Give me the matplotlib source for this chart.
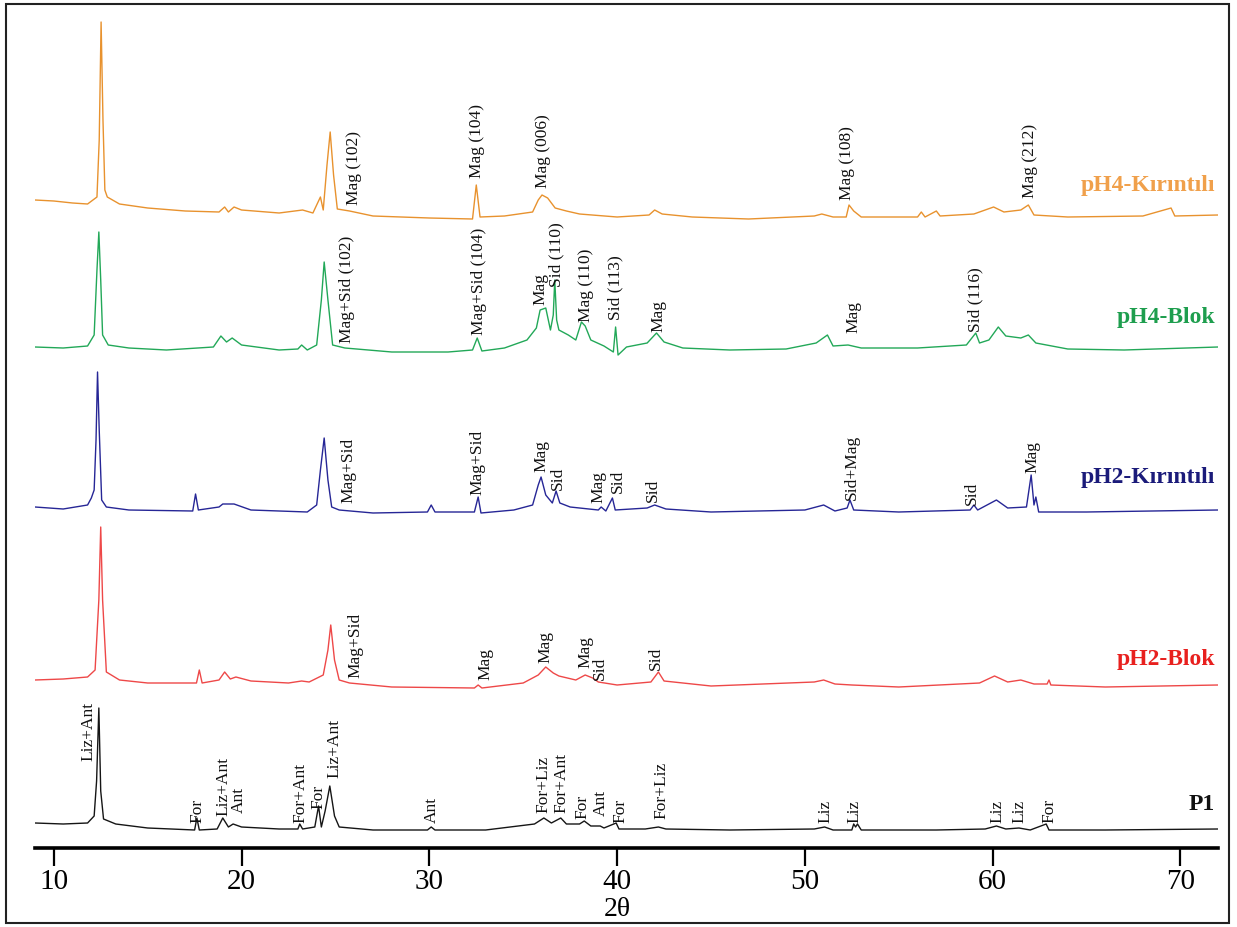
import matplotlib
matplotlib.use("Agg")
import matplotlib.pyplot as plt
from matplotlib.patches import Rectangle

plt.rcParams['font.family'] = ['Liberation Serif', 'DejaVu Serif']

# ---- traces: 2theta and intensity above each trace's own baseline (a.u.) ----
p1_x = [9.0, 10.5, 11.8, 12.15, 12.28, 12.4, 12.5, 12.65, 13.3, 15, 17.5, 17.62, 17.75, 18.7, 19.0, 19.3,
        19.55, 20, 22, 23.0, 23.1, 23.25, 23.9, 24.1, 24.25, 24.45, 24.7, 24.95, 25.2, 27, 29.9, 30.1,
        30.3, 33, 35.6, 36.1, 36.5, 37.0, 37.3, 38.0, 38.25, 38.6, 39.1, 39.3, 39.95, 40.1, 41.5, 42.2,
        42.6, 46, 50.5, 51.05, 51.5, 52.5, 52.6, 52.7, 52.8, 53, 57, 59.6, 60.2, 60.7, 61.4, 62, 62.85,
        63.0, 66, 72]
p1_y = [6, 5, 6, 13, 48, 121, 38, 10, 5, 1, -1, 11, -1, 0, 11, 2,
        5, 2, 0, 0, 5, 0, 2, 23, 2, 18, 43, 13, 2, -1, -1, 2,
        -1, -1, 5, 11, 6, 11, 5, 5, 8, 3, 3, 1, 6, 0, 0, 2,
        0, -1, 0, 2, -1, -1, 5, 2, 5, -1, -1, 0, 3, 0, 1, -1, 5,
        -1, -1, 0]

ph2b_x = [9.0, 10.5, 11.8, 12.2, 12.4, 12.5, 12.6, 12.8, 13.5, 15, 17.6, 17.75, 17.9, 18.8, 19.1, 19.4,
          19.7, 20.5, 22.5, 23.2, 23.6, 24.35, 24.6, 24.75, 24.95, 25.2, 25.75, 28, 32.4, 32.6, 32.8, 35,
          35.8, 36.2, 36.6, 36.9, 37.8, 38.3, 38.7, 39.0, 40, 41.8, 42.2, 42.5, 45, 50.5, 51.0, 51.6,
          52.5, 55, 59.3, 60.1, 60.8, 61.5, 62.2, 62.9, 63.0, 63.1, 66, 72]
ph2b_y = [6, 7, 9, 16, 86, 159, 86, 14, 6, 3, 3, 16, 3, 6, 14, 7,
          9, 5, 3, 5, 4, 11, 36, 61, 26, 6, 3, -1, -2, 1, -2, 3,
          11, 19, 13, 10, 6, 11, 8, 4, 1, 4, 14, 5, 0, 4, 6, 2,
          1, -1, 3, 10, 4, 6, 2, 2, 6, 1, -1, 1]

ph2k_x = [9.0, 10.5, 11.8, 12.0, 12.15, 12.25, 12.33, 12.42, 12.55, 12.8, 14, 17.4, 17.55, 17.7, 18.8, 19.0,
          19.6, 20.5, 23.5, 24.0, 24.2, 24.4, 24.6, 24.8, 25.2, 27, 29.9, 30.1, 30.3, 32.4, 32.6, 32.75,
          34.5, 35.5, 35.8, 35.95, 36.2, 36.55, 36.75, 36.95, 37.5, 39.0, 39.15, 39.4, 39.75, 39.9, 41.6, 42.0,
          42.6, 45, 50, 51, 51.6, 52.25, 52.4, 52.6, 55, 58.8, 59.0, 59.2, 60.2, 60.8, 61.8, 62.05,
          62.2, 62.3, 62.45, 65, 72]
ph2k_y = [4, 2, 6, 13, 21, 71, 139, 81, 11, 4, 1, 0, 17, 1, 4, 7,
          7, 1, -1, 6, 41, 73, 31, 4, 1, -2, -1, 6, -1, -1, 14, -2,
          1, 6, 26, 34, 16, 8, 20, 8, 4, 1, 4, 0, 13, 1, 3, 6,
          2, -1, 1, 6, 0, 3, 11, 1, -1, 1, 6, 1, 11, 3, 4, 36,
          6, 14, -1, -1, 1]

ph4b_x = [9.0, 10.5, 11.8, 12.15, 12.3, 12.4, 12.5, 12.6, 12.9, 14, 16, 18.5, 18.9, 19.2, 19.5, 20,
          22, 23, 23.2, 23.5, 24.0, 24.25, 24.4, 24.6, 24.85, 25.5, 28, 31, 32.3, 32.55, 32.8, 34,
          35.2, 35.7, 35.9, 36.2, 36.45, 36.6, 36.68, 36.78, 36.9, 37.4, 37.8, 38.1, 38.3, 38.6, 39.3, 39.8,
          39.92, 40.05, 40.5, 41.6, 42.1, 42.5, 43.5, 46, 49, 50.6, 51.2, 51.5, 52.3, 53, 56, 58.6,
          59.1, 59.3, 59.8, 60.3, 60.7, 61.5, 61.9, 62.3, 64, 67, 72]
ph4b_y = [2, 1, 3, 14, 79, 117, 69, 14, 4, 1, -1, 2, 13, 7, 11, 4,
          -1, 0, 4, -1, 4, 49, 87, 49, 4, 1, -3, -3, -1, 11, -2, 1,
          9, 21, 39, 41, 19, 34, 69, 29, 19, 14, 9, 27, 23, 9, 3, -3,
          22, -6, 2, 6, 16, 7, 1, -1, 0, 6, 14, 3, 4, 1, 1, 4,
          16, 6, 9, 22, 13, 11, 14, 6, 0, -1, 2]

ph4k_x = [9.0, 10.0, 11.0, 11.8, 12.3, 12.42, 12.52, 12.62, 12.72, 12.85, 13.5, 15, 17, 18.8, 19.1, 19.3,
          19.6, 20.0, 22, 23.25, 23.8, 24.2, 24.35, 24.55, 24.72, 24.9, 25.1, 25.75, 27, 30, 32.3, 32.5,
          32.7, 34, 35.5, 35.8, 36.0, 36.3, 36.7, 37.3, 38.0, 40, 41.7, 42.0, 42.4, 44, 47, 50.5,
          50.9, 51.5, 52.2, 52.35, 52.6, 53, 56.0, 56.2, 56.4, 57.0, 57.2, 59.0, 60.05, 60.6, 61.5, 61.9,
          62.2, 64, 68, 69.5, 69.7, 72]
ph4k_y = [19, 18, 16, 15, 22, 79, 197, 99, 29, 22, 15, 11, 8, 7, 12, 7,
          12, 9, 6, 9, 6, 22, 9, 54, 87, 44, 10, 8, 3, 1, 0, 34,
          2, 3, 7, 19, 24, 21, 11, 8, 5, 2, 4, 9, 5, 2, 0, 3,
          5, 2, 2, 14, 8, 2, 2, 7, 2, 8, 3, 5, 12, 7, 9, 14,
          4, 2, 3, 11, 3, 4]

# vertical offsets of the stacked patterns
offsets = [19, 162, 337, 499, 629]
sample_names = ['P1', 'pH2-Blok', 'pH2-Kırıntılı', 'pH4-Blok', 'pH4-Kırıntılı']
line_colors = ['#151515', '#EE4848', '#262696', '#22A858', '#E8922E']
name_colors = ['#111111', '#E8201E', '#1B1B7A', '#1E9E4E', '#F0A04B']
name_heights = [24, 26, 33, 31, 34]

# phase labels: (text, 2theta, height above baseline)
p1_peaks = [('Liz+Ant', 11.83, 68), ('For', 17.64, 6), ('Liz+Ant', 19.02, 13), ('Ant', 19.85, 16),
            ('For+Ant', 23.12, 6), ('For', 24.08, 20), ('Liz+Ant', 24.93, 51), ('Ant', 30.15, 6),
            ('For+Liz', 36.09, 16), ('For+Ant', 37.02, 16), ('For', 38.13, 10), ('Ant', 39.15, 13),
            ('For', 40.16, 6), ('For+Liz', 42.35, 10), ('Liz', 51.07, 6), ('Liz', 52.62, 6),
            ('Liz', 60.26, 6), ('Liz', 61.4, 6), ('For', 63.0, 6)]
ph2b_peaks = [('Mag+Sid', 26.05, 8), ('Mag', 32.97, 6), ('Mag', 36.17, 23), ('Mag', 38.3, 18),
              ('Sid', 39.1, 6), ('Sid', 42.08, 16)]
ph2k_peaks = [('Mag+Sid', 25.67, 8), ('Mag+Sid', 32.55, 16), ('Mag', 35.95, 39), ('Sid', 36.86, 21),
              ('Mag', 38.99, 8), ('Sid', 40.05, 18), ('Sid', 41.92, 9), ('Sid+Mag', 52.51, 11),
              ('Sid', 58.9, 6), ('Mag', 62.1, 38)]
ph4b_peaks = [('Mag+Sid (102)', 25.62, 6), ('Mag+Sid (104)', 32.65, 14), ('Mag', 35.9, 44),
              ('Sid (110)', 36.75, 62), ('Mag (110)', 38.35, 27), ('Sid (113)', 39.9, 29),
              ('Mag', 42.2, 17), ('Mag', 52.56, 16), ('Sid (116)', 59.06, 17)]
ph4k_peaks = [('Mag (102)', 25.97, 14), ('Mag (104)', 32.55, 41), ('Mag (006)', 36.06, 31),
              ('Mag (108)', 52.25, 19), ('Mag (212)', 61.99, 21)]

traces = [(p1_x, p1_y), (ph2b_x, ph2b_y), (ph2k_x, ph2k_y), (ph4b_x, ph4b_y), (ph4k_x, ph4k_y)]
peak_sets = [p1_peaks, ph2b_peaks, ph2k_peaks, ph4b_peaks, ph4k_peaks]

W, H = 1237, 927
fig = plt.figure(figsize=(W / 100, H / 100), dpi=100)
ax = fig.add_axes([35 / W, (H - 848) / H, (1218 - 35) / W, (848 - 5) / H])

for i, (xs, ys) in enumerate(traces):
    off = offsets[i]
    ax.plot(xs, [y + off for y in ys], color=line_colors[i], lw=1.0)
    for txt, px, h in peak_sets[i]:
        ax.text(px, off + h, txt, rotation=90, ha='center', va='bottom',
                fontsize=12.5, color='#111111')
    ax.text(71.85, off + name_heights[i], sample_names[i], ha='right', va='center',
            fontsize=17, fontweight='bold', color=name_colors[i])

ax.set_xlim(9, 72)
ax.set_ylim(0, 843)
ax.set_xticks([10, 20, 30, 40, 50, 60, 70])
ax.set_yticks([])
for s in ['top', 'left', 'right']:
    ax.spines[s].set_visible(False)
ax.spines['bottom'].set_linewidth(2.6)
ax.tick_params(axis='x', direction='out', length=13, width=1.6, pad=2, labelsize=21)

# axis title placed just under the tick labels, inside the frame
fig.text((54 + 30 * 18.78) / W, (H - 910) / H, '2θ', ha='center', va='center', fontsize=20)

# frame around the whole picture
fig.patches.append(Rectangle((6 / W, 4 / H), (1229 - 6) / W, (923 - 4) / H,
                             transform=fig.transFigure, fill=False, lw=1.5, ec='#222222'))

fig.savefig('out.png', dpi=100)
